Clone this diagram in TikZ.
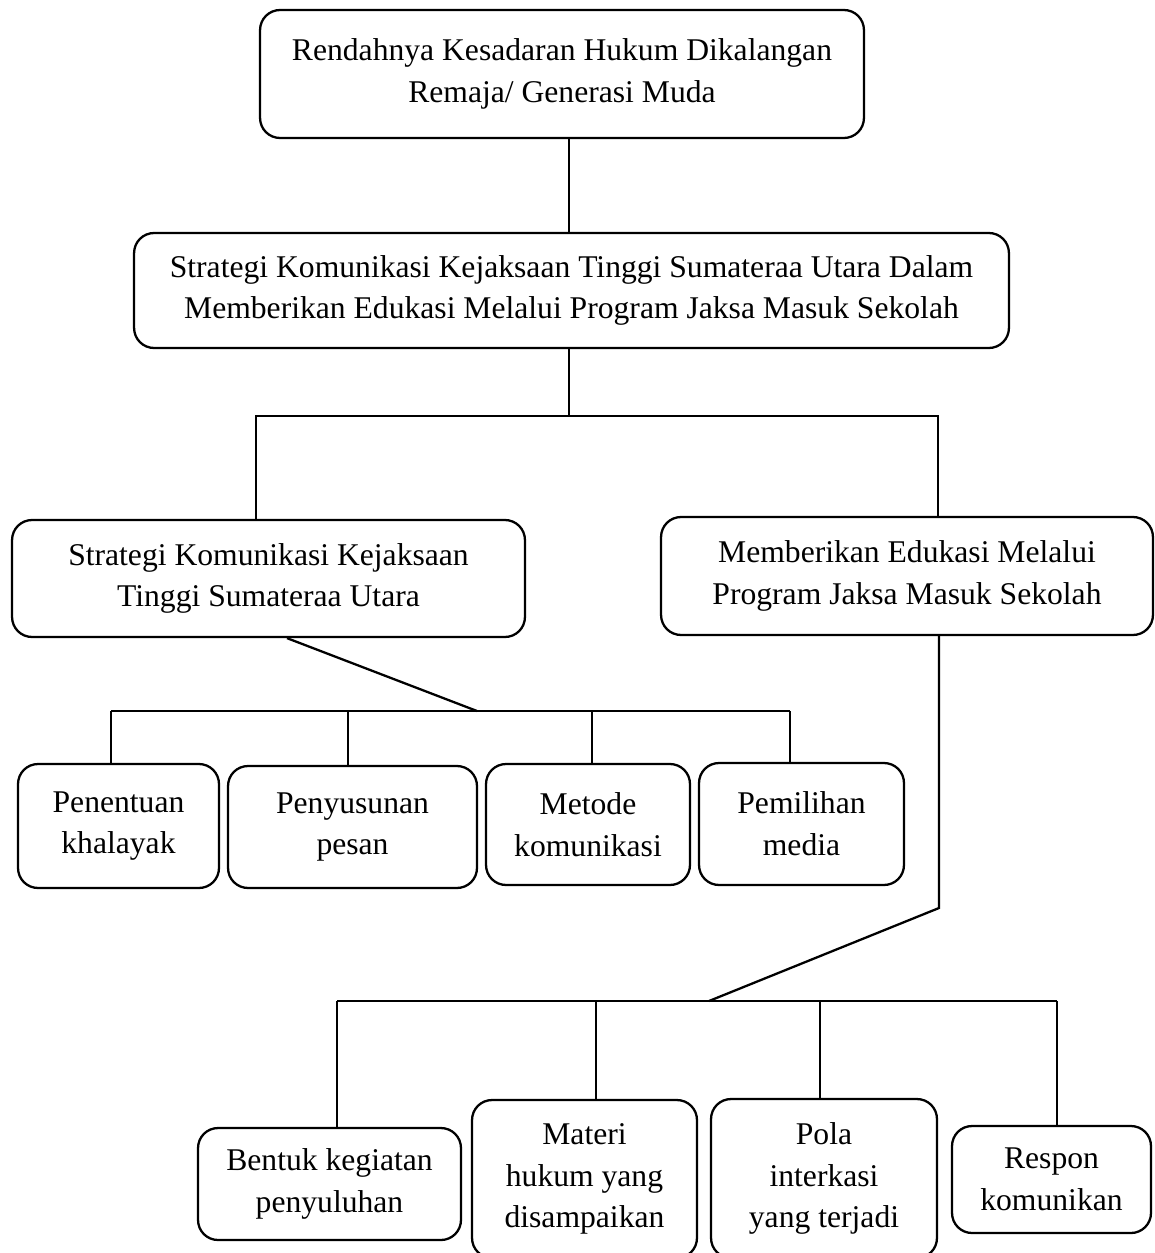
\documentclass[tikz,border=0pt]{standalone}
\usepackage{fontspec}
\setmainfont{Liberation Serif}

\tikzset{
  box/.style={draw, line width=1.3pt, rounded corners=0.4cm, align=center, inner sep=0pt,
    font=\fontsize{18}{23.8}\selectfont},
  link/.style={line width=1.3pt}
}

\begin{document}
\begin{tikzpicture}[x=0.02cm, y=-0.02cm]
\useasboundingbox (0,0) rectangle (1155,1253);

\node[box, minimum width=12.08cm, minimum height=2.56cm] (rendah) at (562,74) {Rendahnya Kesadaran Hukum Dikalangan\\Remaja/ Generasi Muda}; % top
\node[box, minimum width=17.5cm, minimum height=2.3cm] (strategi) at (571.5,290.5) {Strategi Komunikasi Kejaksaan Tinggi Sumateraa Utara Dalam\\Memberikan Edukasi Melalui Program Jaksa Masuk Sekolah};
\node[box, minimum width=10.26cm, minimum height=2.34cm] (kejati) at (268.5,578.5) {Strategi Komunikasi Kejaksaan\\Tinggi Sumateraa Utara};
\node[box, minimum width=9.84cm, minimum height=2.36cm] (jms) at (907,576) {Memberikan Edukasi Melalui\\Program Jaksa Masuk Sekolah};

\node[box, minimum width=4.02cm, minimum height=2.48cm] (khalayak) at (118.5,826) {Penentuan\\khalayak};
\node[box, minimum width=4.98cm, minimum height=2.44cm] (pesan) at (352.5,827) {Penyusunan\\pesan};
\node[box, minimum width=4.08cm, minimum height=2.42cm] (metode) at (588,824.5) {Metode\\komunikasi};
\node[box, minimum width=4.1cm, minimum height=2.44cm] (media) at (801.5,824) {Pemilihan\\media};

\node[box, minimum width=5.26cm, minimum height=2.24cm] (bentuk) at (329.5,1184) {Bentuk kegiatan\\penyuluhan};
\node[box, minimum width=4.5cm, minimum height=3.16cm] (materi) at (584.5,1179) {Materi\\hukum yang\\disampaikan};
\node[box, minimum width=4.52cm, minimum height=3.18cm] (pola) at (824,1178.5) {Pola\\interkasi\\yang terjadi};
\node[box, minimum width=3.98cm, minimum height=2.14cm] (respon) at (1051.5,1179.5) {Respon\\komunikan};

% upper trunk
\coordinate (trunk) at (569,416);
\coordinate (barL) at (256,416);
\coordinate (barR) at (938,416);
\draw[link] (rendah.south -| trunk) -- (strategi.north -| trunk);
\draw[link] (strategi.south -| trunk) -- (trunk);
\draw[link] (kejati.north -| barL) -- (barL) -- (barR) -- (jms.north -| barR);

% left branch
\coordinate (kaki1) at (287,637);
\coordinate (hub1) at (477,711);
\draw[link] (kejati.south -| kaki1) -- (hub1);
\coordinate (v1) at (111,711);
\coordinate (v2) at (348,711);
\coordinate (v3) at (592,711);
\coordinate (v4) at (790,711);
\draw[link] (v1) -- (v4);
\foreach \v/\n in {v1/khalayak, v2/pesan, v3/metode, v4/media}
  \draw[link] (\v) -- (\v |- \n.north);

% right branch
\coordinate (turun) at (939,908);
\coordinate (hub2) at (709,1001);
\draw[link] (jms.south -| turun) -- (turun) -- (hub2);
\coordinate (w1) at (337,1001);
\coordinate (w2) at (596,1001);
\coordinate (w3) at (820,1001);
\coordinate (w4) at (1057,1001);
\draw[link] (w1) -- (w4);
\foreach \w/\n in {w1/bentuk, w2/materi, w3/pola, w4/respon}
  \draw[link] (\w) -- (\w |- \n.north);

\end{tikzpicture}
\end{document}
